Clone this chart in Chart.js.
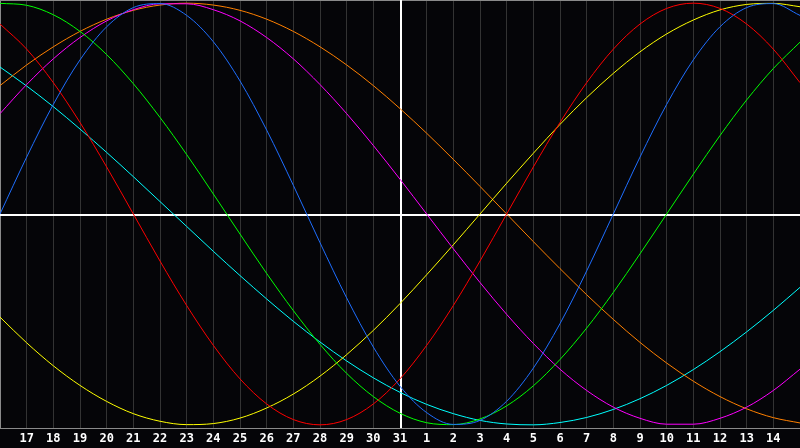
<!DOCTYPE html>
<html>
<head>
<meta charset="utf-8">
<script src="https://cdn.jsdelivr.net/npm/chart.js@4"></script>
<style>
html,body{margin:0;padding:0;background:#050508;}
#wrap{width:800px;height:448px;position:relative;}
</style>
</head>
<body>
<div id="wrap"><canvas id="c" width="800" height="448"></canvas></div>
<script>
// Day labels (x positions 0..30)
const days = [16,17,18,19,20,21,22,23,24,25,26,27,28,29,30,31,1,2,3,4,5,6,7,8,9,10,11,12,13,14,15];

// Series values (-100..100), one per day
const physical     = [0,27.0,52.0,73.1,88.8,97.9,99.8,94.2,81.7,63.1,39.8,13.6,-13.6,-39.8,-63.1,-81.7,-94.2,-99.8,-97.9,-88.8,-73.1,-52.0,-27.0,0,27.0,52.0,73.1,88.8,97.9,99.8,94.2];
const emotional    = [90.1,78.2,62.3,43.4,22.3,0,-22.3,-43.4,-62.3,-78.2,-90.1,-97.5,-100,-97.5,-90.1,-78.2,-62.3,-43.4,-22.3,0,22.3,43.4,62.3,78.2,90.1,97.5,100,97.5,90.1,78.2,62.3];
const intellectual = [99.9,99.0,94.5,86.6,75.6,61.8,45.8,28.2,9.5,-9.5,-28.2,-45.8,-61.8,-75.6,-86.6,-94.5,-99.0,-99.9,-97.2,-91.0,-81.5,-69.0,-54.1,-37.2,-18.9,0,18.9,37.2,54.1,69.0,81.5];
const intuitive    = [47.6,61.4,73.6,83.7,91.6,96.9,99.7,99.7,96.9,91.6,83.7,73.6,61.4,47.6,32.5,16.5,0,-16.5,-32.5,-47.6,-61.4,-73.6,-83.7,-91.6,-96.9,-99.7,-99.7,-96.9,-91.6,-83.7,-73.6];
const aesthetic    = [-48.9,-61.1,-72.0,-81.3,-88.9,-94.7,-98.3,-99.9,-99.4,-96.8,-92.0,-85.4,-76.9,-66.7,-55.2,-42.5,-28.8,-14.6,0,14.6,28.8,42.5,55.2,66.7,76.9,85.4,92.0,96.8,99.4,99.9,98.3];
const awareness    = [60.9,70.7,79.3,86.6,92.4,96.6,99.1,100,99.1,96.6,92.4,86.6,79.3,70.7,60.9,50.0,38.3,25.9,13.1,0,-13.1,-25.9,-38.3,-50.0,-60.9,-70.7,-79.3,-86.6,-92.4,-96.6,-99.1];
const spiritual    = [69.7,60.7,50.9,40.3,29.2,17.7,5.9,-5.9,-17.7,-29.2,-40.3,-50.9,-60.7,-69.7,-77.7,-84.6,-90.3,-94.7,-97.9,-99.6,-100,-98.9,-96.5,-92.7,-87.6,-81.3,-73.8,-65.3,-55.9,-45.7,-34.8];

const todayIndex = 15;

const framePlugin = {
  id: 'frame',
  beforeDraw(chart) {
    const ctx = chart.ctx;
    ctx.save();
    ctx.fillStyle = '#050508';
    ctx.fillRect(0, 0, chart.width, chart.height);
    ctx.restore();
  },
  beforeDatasetsDraw(chart) {
    const ctx = chart.ctx, a = chart.chartArea;
    const ys = chart.scales.y, xs = chart.scales.x;
    ctx.save();
    // borders
    ctx.fillStyle = '#8a8a8a';
    ctx.fillRect(0, 0, chart.width, 1);
    ctx.fillRect(0, 0, 1, a.bottom);
    ctx.fillRect(0, Math.round(a.bottom), chart.width, 1);
    // centre lines
    ctx.fillStyle = '#ffffff';
    const y0 = Math.round(ys.getPixelForValue(0));
    ctx.fillRect(a.left, y0, a.right - a.left, 2);
    const x0 = Math.round(xs.getPixelForValue(todayIndex));
    ctx.fillRect(x0, a.top, 2, a.bottom - a.top);
    ctx.restore();
  }
};

const mk = (label, data, color) => ({
  label, data, borderColor: color, backgroundColor: color,
  borderWidth: 1, pointRadius: 0, pointHoverRadius: 0, pointHitRadius: 0,
  cubicInterpolationMode: 'monotone', fill: false
});

new Chart(document.getElementById('c'), {
  type: 'line',
  data: {
    labels: days,
    datasets: [
      mk('Physical', physical, '#1e6eff'),
      mk('Emotional', emotional, '#ff0000'),
      mk('Intellectual', intellectual, '#00ff00'),
      mk('Intuitive', intuitive, '#ff00ff'),
      mk('Aesthetic', aesthetic, '#ffff00'),
      mk('Awareness', awareness, '#ff8000'),
      mk('Spiritual', spiritual, '#00ffff')
    ]
  },
  options: {
    responsive: false,
    animation: false,
    layout: { autoPadding: false, padding: { left: 0, right: 0, top: 0, bottom: -2 } },
    plugins: { legend: { display: false }, tooltip: { enabled: false } },
    scales: {
      x: {
        offset: false,
        border: { display: false },
        grid: {
          drawTicks: false,
          color: (c) => (c.index === 0 || c.index === todayIndex) ? 'rgba(0,0,0,0)' : '#333333',
          lineWidth: 1
        },
        ticks: {
          autoSkip: false, maxRotation: 0, padding: 0,
          color: '#ffffff',
          font: { family: 'DejaVu Sans Mono', weight: 'bold', size: 12, lineHeight: '22px' },
          callback: function(v, i) { return (i === 0 || i === days.length - 1) ? '' : String(days[i]); }
        }
      },
      y: {
        display: false,
        min: -101.5, max: 101.5
      }
    }
  },
  plugins: [framePlugin]
});
</script>
</body>
</html>
